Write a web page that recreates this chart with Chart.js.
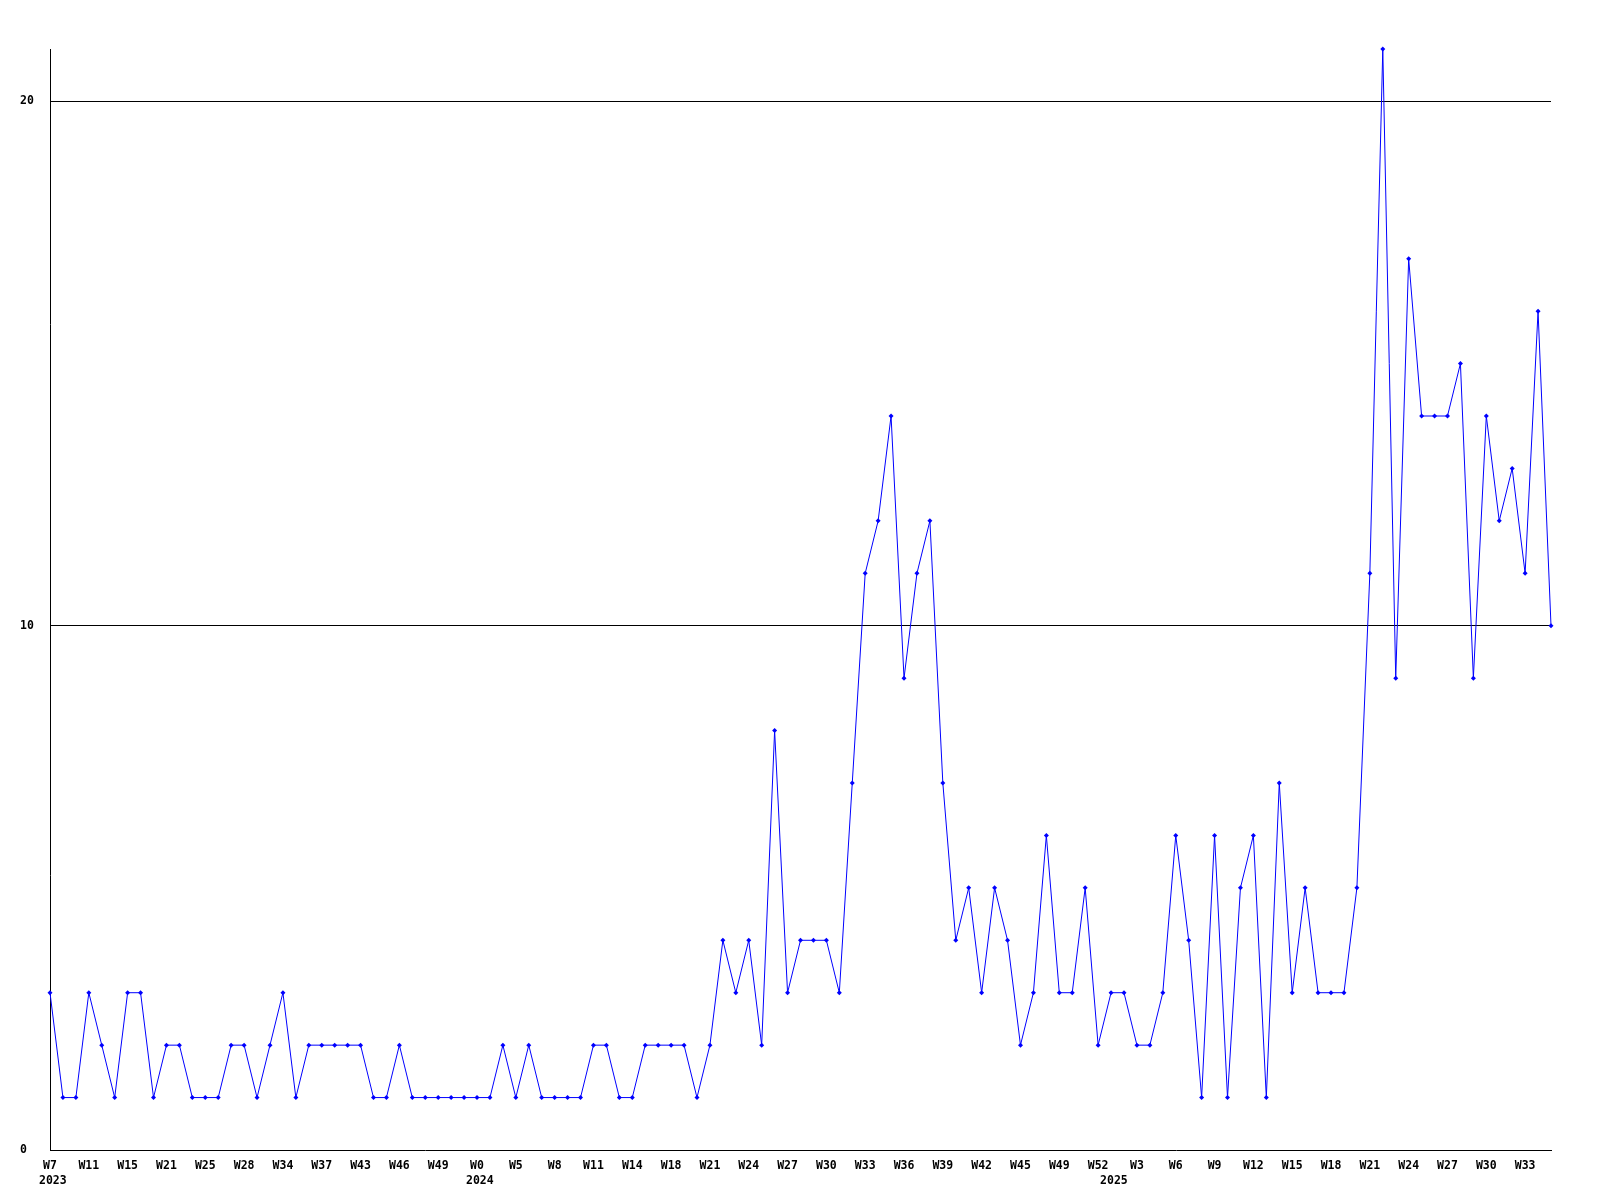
<!DOCTYPE html>
<html>
<head>
<meta charset="utf-8">
<script src="https://cdn.jsdelivr.net/npm/chart.js@4/dist/chart.umd.min.js"></script>
<style>
  html, body { margin: 0; padding: 0; background: #fff; }
  #wrap { width: 1600px; height: 1200px; }
</style>
</head>
<body>
<div id="wrap"><canvas id="c" width="1600" height="1200"></canvas></div>
<script>
// ---- data ----
const weeks2023 = ['W7','W8','W9','W11','W12','W13','W15','W17','W19','W21','W22','W23','W25','W26','W27','W28','W30','W32','W34','W35','W36','W37','W39','W41','W43','W44','W45','W46','W47','W48','W49','W50','W51'];
const weeks2024 = ['W0','W3','W4','W5','W6','W7','W8','W9','W10','W11','W12','W13','W14','W15','W16','W18','W19','W20','W21','W22','W23','W24','W25','W26','W27','W28','W29','W30','W31','W32','W33','W34','W35','W36','W37','W38','W39','W40','W41','W42','W43','W44','W45','W46','W47','W49','W50','W51','W52'];
const weeks2025 = ['W0','W1','W3','W4','W5','W6','W7','W8','W9','W10','W11','W12','W13','W14','W15','W16','W17','W18','W19','W20','W21','W22','W23','W24','W25','W26','W27','W28','W29','W30','W31','W32','W33','W34','W35'];
const years = ['2023','2024','2025'];

const values2023 = [3,1,1,3,2,1,3,3,1,2,2,1,1,1,2,2,1,2,3,1,2,2,2,2,2,1,1,2,1,1,1,1,1];
const values2024 = [1,1,2,1,2,1,1,1,1,2,2,1,1,2,2,2,2,1,2,4,3,4,2,8,3,4,4,4,3,7,11,12,14,9,11,12,7,4,5,3,5,4,2,3,6,3,3,5,2];
const values2025 = [3,3,2,2,3,6,4,1,6,1,5,6,1,7,3,5,3,3,3,5,11,21,9,17,14,14,14,15,9,14,12,13,11,16,10];

const yTickValues = [0,10,20];
const yMax = 21;

// ---- build ----
const weekGroups = [weeks2023, weeks2024, weeks2025];
const valueGroups = [values2023, values2024, values2025];
const labels = [];
const data = [];
const yearStarts = [];
weekGroups.forEach((wk, g) => {
  yearStarts.push({ index: labels.length, text: years[g] });
  wk.forEach((w, i) => { labels.push(w); data.push(valueGroups[g][i]); });
});

const FONT = { family: '"DejaVu Sans Mono", "Liberation Mono", monospace', size: 11.5, weight: 'bold' };

const yearPlugin = {
  id: 'yearLabels',
  afterDraw(chart) {
    const ctx = chart.ctx;
    const xs = chart.scales.x;
    ctx.save();
    ctx.font = 'bold 11.5px "DejaVu Sans Mono", "Liberation Mono", monospace';
    ctx.fillStyle = '#000';
    ctx.textAlign = 'left';
    ctx.textBaseline = 'middle';
    yearStarts.forEach(ys => {
      const px = xs.getPixelForValue(ys.index);
      ctx.fillText(ys.text, px - 11, 1181);
    });
    ctx.restore();
  }
};

new Chart(document.getElementById('c'), {
  type: 'line',
  data: {
    labels: labels,
    datasets: [{
      data: data,
      borderColor: '#0000ff',
      backgroundColor: '#0000ff',
      borderWidth: 1,
      pointStyle: 'rectRot',
      pointRadius: 2.5,
      pointBorderWidth: 0,
      pointBackgroundColor: '#0000ff',
      tension: 0,
      fill: false,
      clip: false
    }]
  },
  options: {
    responsive: false,
    animation: false,
    events: [],
    layout: { padding: { left: 20, right: 49, top: 49, bottom: 0 } },
    plugins: { legend: { display: false }, tooltip: { enabled: false } },
    scales: {
      x: {
        type: 'category',
        offset: false,
        grid: { display: false, drawTicks: false, tickLength: 0 },
        border: { display: true, color: '#000', width: 1 },
        ticks: {
          autoSkip: false,
          maxRotation: 0,
          minRotation: 0,
          padding: 9,
          color: '#000',
          font: FONT,
          callback: function(v, i) { return i % 3 === 0 ? labels[i] : ''; }
        },
        afterFit(scale) { scale.height = 50; }
      },
      y: {
        min: 0,
        max: yMax,
        afterBuildTicks(scale) { scale.ticks = yTickValues.map(v => ({ value: v })); },
        grid: {
          drawTicks: false,
          color: ctx => (ctx.tick && ctx.tick.value === 0) ? 'rgba(0,0,0,0)' : '#000',
          lineWidth: 1
        },
        border: { display: true, color: '#000', width: 1 },
        ticks: {
          crossAlign: 'far',
          padding: 0,
          color: '#000',
          font: FONT
        },
        afterFit(scale) { scale.width = 30; }
      }
    }
  },
  plugins: [yearPlugin]
});
</script>
</body>
</html>
